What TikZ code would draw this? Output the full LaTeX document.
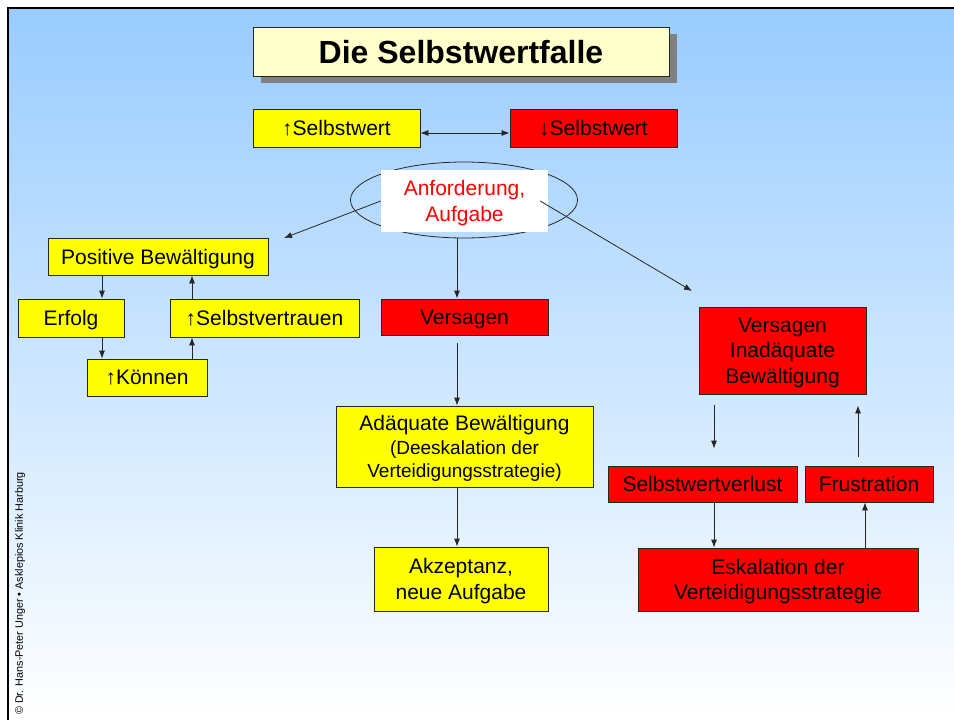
\documentclass[tikz,border=0pt]{standalone}
\usepackage{fontspec}
\setmainfont{Liberation Sans}
\usetikzlibrary{arrows.meta,shapes.geometric}
\definecolor{bgblue}{RGB}{153,204,255}
\definecolor{yel}{RGB}{255,255,0}
\definecolor{rd}{RGB}{255,0,0}
\definecolor{lyel}{RGB}{255,255,204}
\definecolor{shad}{RGB}{128,128,128}
\begin{document}
\begin{tikzpicture}[x=1pt,y=-1pt,
  box/.style={draw=black!85, line width=0.8pt, inner sep=0pt, align=center, text=black, text depth=0pt, font=\fontsize{21}{25.5}\selectfont},
  ybox/.style={box, fill=yel},
  rbox/.style={box, fill=rd},
  arr/.style={-{Latex[length=8pt,width=6pt]}, line width=0.8pt, draw=black!85},
  darr/.style={{Latex[length=8pt,width=6pt]}-{Latex[length=8pt,width=6pt]}, line width=0.8pt, draw=black!85},
]
\useasboundingbox (0,0) rectangle (954,720);
\fill[white] (0,0) rectangle (954,720);
\shade[top color=bgblue, bottom color=white] (8,8) rectangle (954,720);
\draw[line width=2.5pt, black] (8,720) -- (8,8) -- (954,8);

% title
\fill[shad] (261,34) rectangle (677,83);
\node[box, fill=lyel, minimum width=416pt, minimum height=49pt, font=\bfseries\fontsize{32}{36}\selectfont] (title) at (461,51.5) {Die Selbstwertfalle};

% top row
\node[ybox, minimum width=167pt, minimum height=38pt] (ys) at (336.5,128) {↑Selbstwert};
\node[rbox, minimum width=167pt, minimum height=38pt] (rs) at (593.5,128) {↓Selbstwert};
\draw[darr] ([yshift=-5pt]ys.east) -- ([yshift=-5pt]rs.west);

% ellipse
\node[draw=black!85, line width=0.8pt, ellipse, minimum width=227pt, minimum height=76pt, inner sep=0pt] (ell) at (464,200) {};
\node[fill=white, minimum width=167pt, minimum height=62pt, inner sep=0pt, align=center, text=rd, text depth=0pt, font=\fontsize{21}{25.5}\selectfont] (anf) at (464.5,201) {Anforderung,\\Aufgabe};

\coordinate (pl) at (284,238);
\coordinate (pr) at (692,291);
\draw[arr] (anf.west) -- (pl);
\draw[arr] ([xshift=-8pt]anf.east) -- (pr);

% left cycle
\node[ybox, minimum width=220pt, minimum height=37pt] (pb) at (158,256.5) {Positive Bewältigung};
\node[ybox, minimum width=106pt, minimum height=38pt] (erf) at (71,318) {Erfolg};
\node[ybox, minimum width=189pt, minimum height=38pt] (sv) at (264.5,318) {↑Selbstvertrauen};
\node[ybox, minimum width=120pt, minimum height=37pt] (kn) at (147,377.5) {↑Können};
\draw[arr] (pb.south -| 102,0) -- (erf.north -| 102,0);
\draw[arr] (erf.south -| 102,0) -- (kn.north -| 102,0);
\draw[arr] (kn.north -| 192,0) -- (sv.south -| 192,0);
\draw[arr] (sv.north -| 192,0) -- (pb.south -| 192,0);

% middle
\node[rbox, minimum width=167pt, minimum height=36pt] (vs) at (464.5,317) {Versagen};
\node[ybox, minimum width=257pt, minimum height=81pt] (ad) at (464.5,446.5) {Adäquate Bewältigung\\[-2pt]{\fontsize{19}{24}\selectfont(Deeskalation der}\\[-2pt]{\fontsize{19}{24}\selectfont Verteidigungsstrategie)}};
\node[ybox, minimum width=174pt, minimum height=64pt] (ak) at (461,579) {Akzeptanz,\\neue Aufgabe};
\draw[arr] (ell.south -| 457,0) -- (vs.north -| 457,0);
\draw[arr, shorten <=8pt] (vs.south -| 457,0) -- (ad.north -| 457,0);
\draw[arr] (ad.south -| 457,0) -- (ak.north -| 457,0);

% right cycle
\node[rbox, minimum width=167pt, minimum height=87pt] (vi) at (782.5,350.5) {Versagen\\Inadäquate\\Bewältigung};
\node[rbox, minimum width=189pt, minimum height=36pt] (svv) at (702.5,484) {Selbstwertverlust};
\node[rbox, minimum width=128pt, minimum height=36pt] (fr) at (869,484) {Frustration};
\node[rbox, minimum width=280pt, minimum height=63pt] (esk) at (778,579.5) {Eskalation der\\Verteidigungsstrategie};
\draw[arr, shorten <=11pt, shorten >=17pt] (vi.south -| 714,0) -- (svv.north -| 714,0);
\draw[arr] (svv.south -| 714,0) -- (esk.north -| 714,0);
\draw[arr] (esk.north -| 865,0) -- (fr.south -| 865,0);
\draw[arr, shorten <=9pt, shorten >=11pt] (fr.north -| 858,0) -- (vi.south -| 858,0);

% copyright
\node[rotate=90, anchor=west, inner sep=0pt, font=\fontsize{10.8}{12}\selectfont] (copy) at (20,715) {© Dr. Hans-Peter Unger • Asklepios Klinik Harburg};
\end{tikzpicture}
\end{document}
